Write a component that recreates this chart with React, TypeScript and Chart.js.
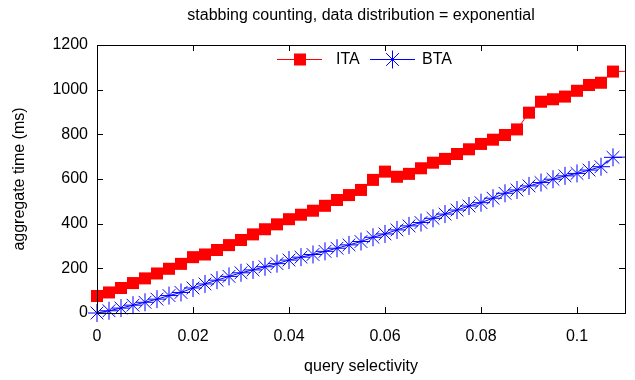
import React, { useEffect, useRef } from 'react';
import { Chart, registerables } from 'chart.js';

Chart.register(...registerables);

const TITLE = 'stabbing counting, data distribution = exponential';
const X_TITLE = 'query selectivity';
const Y_TITLE = 'aggregate time (ms)';
const SERIES_NAMES = ['ITA', 'BTA'];

// last point lies just beyond the visible x range (clipped, only its line segment shows)
const selectivity = [
  0, 0.0025, 0.005, 0.0075, 0.01, 0.0125, 0.015, 0.0175, 0.02, 0.0225,
  0.025, 0.0275, 0.03, 0.0325, 0.035, 0.0375, 0.04, 0.0425, 0.045, 0.0475,
  0.05, 0.0525, 0.055, 0.0575, 0.06, 0.0625, 0.065, 0.0675, 0.07, 0.0725,
  0.075, 0.0775, 0.08, 0.0825, 0.085, 0.0875, 0.09, 0.0925, 0.095, 0.0975,
  0.1, 0.1025, 0.105, 0.1075, 0.1125,
];

const itaTime = [
  76, 92, 112, 134, 155, 177, 198, 220, 250, 262,
  282, 304, 327, 352, 375, 397, 420, 440, 458, 480,
  506, 528, 551, 596, 633, 610, 623, 648, 673, 690,
  712, 733, 757, 776, 797, 822, 897, 946, 957, 969,
  995, 1021, 1031, 1081, 1083,
];

const btaTime = [
  0, 10, 22, 35, 48, 62, 78, 92, 112, 130,
  147, 164, 180, 193, 207, 221, 237, 250, 262, 276,
  290, 305, 320, 339, 354, 372, 390, 405, 424, 443,
  461, 479, 494, 514, 536, 551, 569, 584, 599, 614,
  625, 640, 655, 697, 699,
];

const xTicks = [0, 0.02, 0.04, 0.06, 0.08, 0.1];
const xTickLabels = ['0', '0.02', '0.04', '0.06', '0.08', '0.1'];
const yTicks = [0, 200, 400, 600, 800, 1000, 1200];
const yTickLabels = ['0', '200', '400', '600', '800', '1000', '1200'];

const X_MIN = 0;
const X_MAX = 0.11;
const Y_MIN = 0;
const Y_MAX = 1200;

const FONT = '"Liberation Sans", Arial, Helvetica, sans-serif';
const FONT_SIZE = 16;
const RED = '#ff0000';
const BLUE = '#0000ff';

function drawStar(ctx: CanvasRenderingContext2D, x: number, y: number, r: number) {
  const d = r * Math.SQRT1_2;
  ctx.beginPath();
  ctx.moveTo(x, y - r);
  ctx.lineTo(x, y + r);
  ctx.moveTo(x - r, y);
  ctx.lineTo(x + r, y);
  ctx.moveTo(x - d, y - d);
  ctx.lineTo(x + d, y + d);
  ctx.moveTo(x - d, y + d);
  ctx.lineTo(x + d, y - d);
  ctx.stroke();
}

const decorPlugin = {
  id: 'decor',
  beforeDatasetsDraw(chart: any) {
    const { ctx, chartArea } = chart;
    const { left, right, top, bottom } = chartArea;
    const xs = chart.scales.x;
    const ys = chart.scales.y;
    ctx.save();
    ctx.strokeStyle = '#000';
    ctx.lineWidth = 1;
    const tl = 6;
    ctx.beginPath();
    xTicks.forEach((v) => {
      const px = Math.round(xs.getPixelForValue(v)) + 0.5;
      ctx.moveTo(px, bottom);
      ctx.lineTo(px, bottom - tl);
      ctx.moveTo(px, top);
      ctx.lineTo(px, top + tl);
    });
    yTicks.forEach((v) => {
      const py = Math.round(ys.getPixelForValue(v)) + 0.5;
      ctx.moveTo(left, py);
      ctx.lineTo(left + tl, py);
      ctx.moveTo(right, py);
      ctx.lineTo(right - tl, py);
    });
    ctx.stroke();
    ctx.restore();
  },
  afterDatasetsDraw(chart: any) {
    const { ctx, chartArea } = chart;
    const { left, right, top, bottom } = chartArea;
    ctx.save();
    ctx.strokeStyle = '#000';
    ctx.lineWidth = 1;
    ctx.strokeRect(Math.round(left) + 0.5, Math.round(top) + 0.5, Math.round(right - left), Math.round(bottom - top));
    ctx.restore();
  },
  afterDraw(chart: any) {
    const { ctx, chartArea } = chart;
    const { left, right, top, bottom } = chartArea;
    const cx = (left + right) / 2;
    ctx.save();
    ctx.fillStyle = '#000';
    ctx.font = `${FONT_SIZE}px ${FONT}`;
    ctx.textAlign = 'center';
    ctx.textBaseline = 'middle';
    ctx.fillText(TITLE, cx, 16);
    ctx.fillText(X_TITLE, cx, 367);
    ctx.save();
    ctx.translate(20, (top + bottom) / 2);
    ctx.rotate(-Math.PI / 2);
    ctx.fillText(Y_TITLE, 0, 0);
    ctx.restore();

    // legend
    const ly = Math.round(top + 14) + 0.5;
    ctx.lineWidth = 1;
    // ITA
    ctx.strokeStyle = RED;
    ctx.beginPath();
    ctx.moveTo(cx - 84, ly);
    ctx.lineTo(cx - 39, ly);
    ctx.stroke();
    ctx.fillStyle = RED;
    ctx.fillRect(cx - 61 - 6, ly - 6, 12, 12);
    ctx.fillStyle = '#000';
    ctx.textAlign = 'left';
    ctx.fillText(SERIES_NAMES[0], cx - 25, ly);
    // BTA
    ctx.strokeStyle = BLUE;
    ctx.beginPath();
    ctx.moveTo(cx + 9, ly);
    ctx.lineTo(cx + 54, ly);
    ctx.stroke();
    drawStar(ctx, cx + 31.5, ly, 9);
    ctx.fillStyle = '#000';
    ctx.fillText(SERIES_NAMES[1], cx + 61, ly);
    ctx.restore();
  },
};

function findLabel(v: number, ticks: number[], labels: string[]) {
  for (let i = 0; i < ticks.length; i++) {
    if (Math.abs(ticks[i] - v) < 1e-9) return labels[i];
  }
  return '';
}

export default function App() {
  const canvasRef = useRef<HTMLCanvasElement | null>(null);

  useEffect(() => {
    document.body.style.margin = '0';
    const canvas = canvasRef.current;
    if (!canvas) return;
    const clip = { left: 20, top: 20, bottom: 20, right: 0 };
    const chart = new Chart(canvas, {
      type: 'line',
      data: {
        datasets: [
          {
            label: SERIES_NAMES[0],
            data: selectivity.map((x, i) => ({ x, y: itaTime[i] })),
            borderColor: RED,
            backgroundColor: RED,
            borderWidth: 1,
            pointStyle: 'rect',
            pointRadius: 8.5,
            pointBorderWidth: 0,
            pointBackgroundColor: RED,
            pointBorderColor: RED,
            tension: 0,
            clip: clip as any,
          },
          {
            label: SERIES_NAMES[1],
            data: selectivity.map((x, i) => ({ x, y: btaTime[i] })),
            borderColor: BLUE,
            backgroundColor: BLUE,
            borderWidth: 1,
            pointStyle: 'star',
            pointRadius: 9,
            pointBorderWidth: 1,
            pointBorderColor: BLUE,
            pointBackgroundColor: BLUE,
            tension: 0,
            clip: clip as any,
          },
        ],
      },
      options: {
        responsive: false,
        animation: false,
        devicePixelRatio: 1,
        layout: { padding: { top: 45, right: 9, left: 0, bottom: 0 } },
        plugins: {
          legend: { display: false },
          tooltip: { enabled: false },
          title: { display: false },
        },
        scales: {
          x: {
            type: 'linear',
            min: X_MIN,
            max: X_MAX,
            grid: { display: false, drawTicks: false },
            border: { display: false },
            afterBuildTicks: (s: any) => {
              s.ticks = xTicks.map((v) => ({ value: v }));
            },
            afterFit: (s: any) => {
              s.height = 67;
            },
            ticks: {
              padding: 14,
              color: '#000',
              maxRotation: 0,
              autoSkip: false,
              font: { family: FONT, size: FONT_SIZE },
              callback: (v: any) => findLabel(Number(v), xTicks, xTickLabels),
            },
          },
          y: {
            type: 'linear',
            min: Y_MIN,
            max: Y_MAX,
            grid: { display: false, drawTicks: false },
            border: { display: false },
            afterBuildTicks: (s: any) => {
              s.ticks = yTicks.map((v) => ({ value: v }));
            },
            afterFit: (s: any) => {
              s.width = 97;
            },
            ticks: {
              padding: 9,
              color: '#000',
              autoSkip: false,
              font: { family: FONT, size: FONT_SIZE },
              callback: (v: any) => findLabel(Number(v), yTicks, yTickLabels),
            },
          },
        },
      } as any,
      plugins: [decorPlugin],
    });
    return () => chart.destroy();
  }, []);

  return (
    <div style={{ width: 635, height: 380 }}>
      <canvas ref={canvasRef} width={635} height={380} style={{ display: 'block' }} />
    </div>
  );
}
